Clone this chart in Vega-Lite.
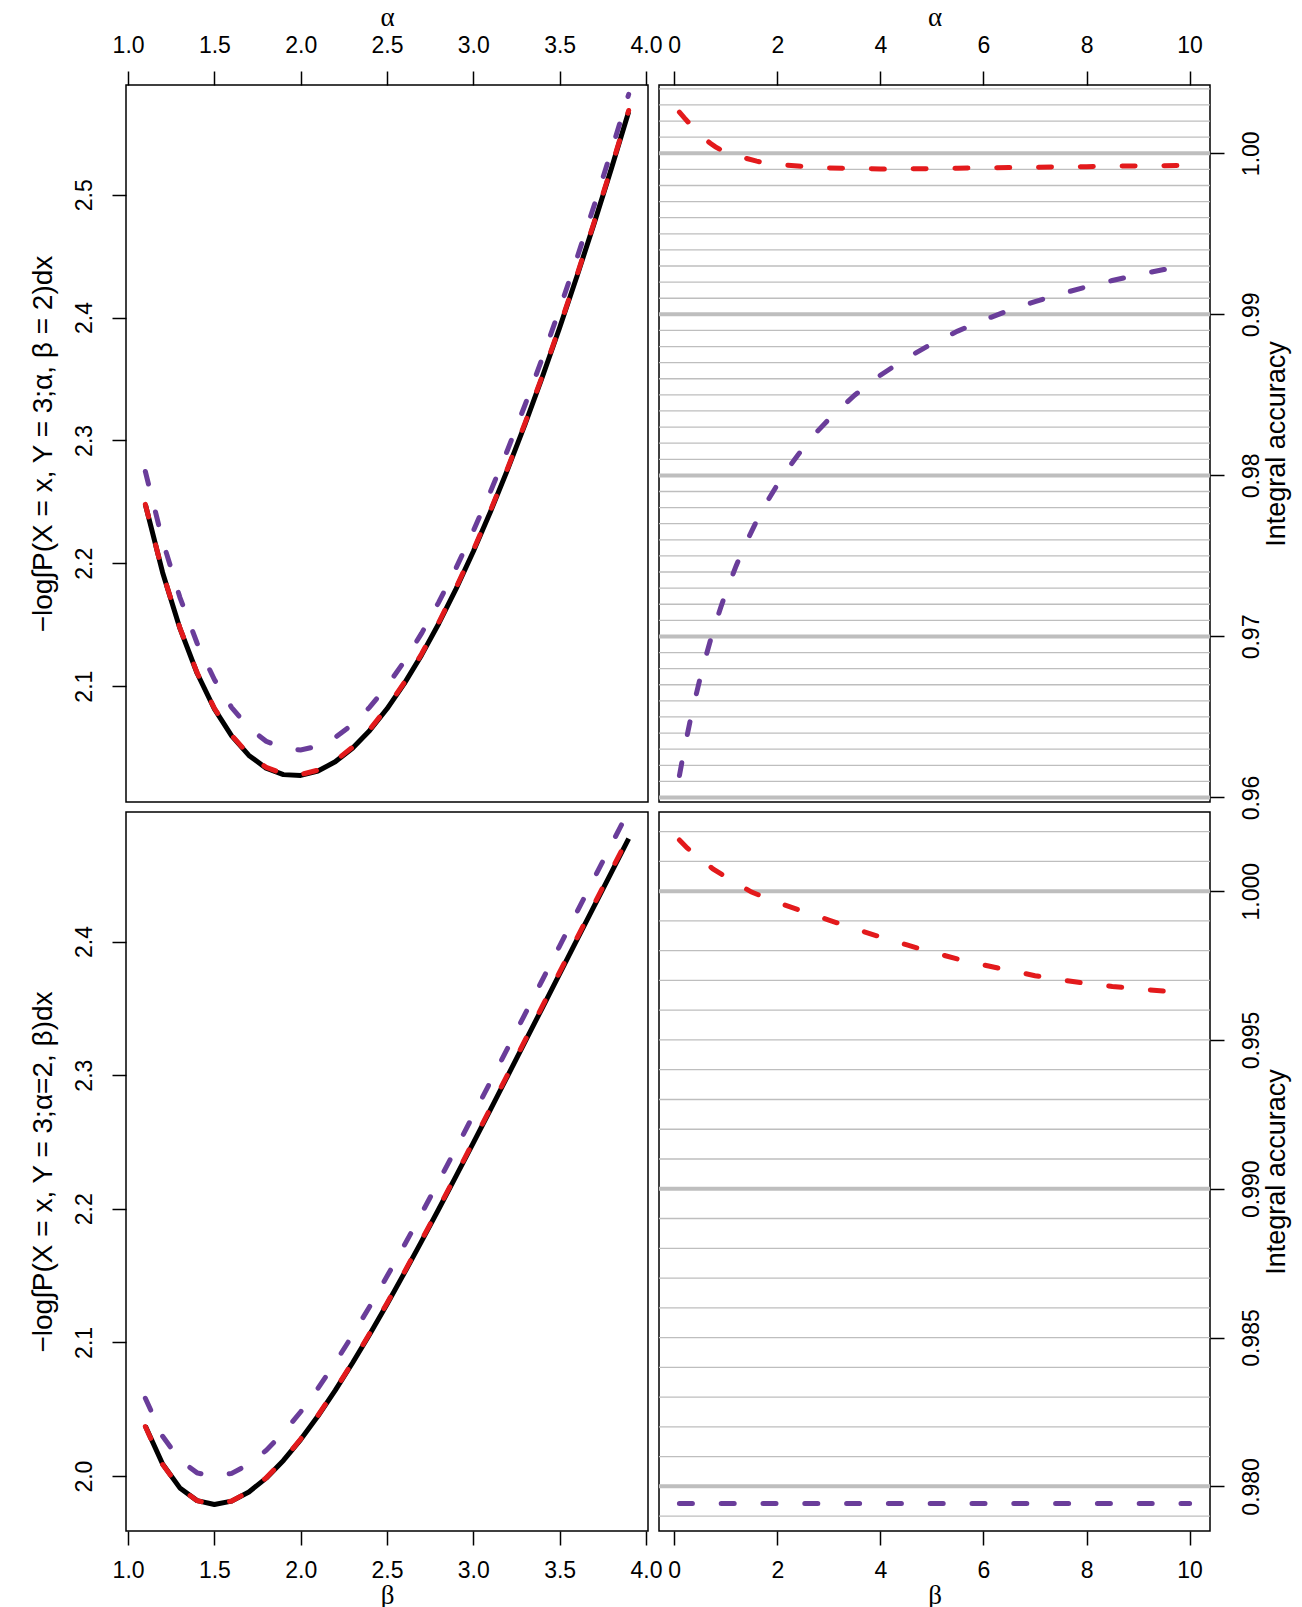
{
  "$schema": "https://vega.github.io/schema/vega-lite/v6.json",
  "padding": {"left": 28, "top": 2, "right": 5, "bottom": 0},
  "background": "white",
  "columns": 2,
  "align": "each",
  "bounds": "flush",
  "spacing": {"row": 10, "column": 11},
  "datasets": {
    "tl": [
      {"alpha": 1.1, "exact": 2.24798, "red": 2.24801, "purple": 2.27477},
      {"alpha": 1.2, "exact": 2.19256, "red": 2.19268, "purple": 2.21852},
      {"alpha": 1.3, "exact": 2.14717, "red": 2.14739, "purple": 2.17235},
      {"alpha": 1.4, "exact": 2.1105, "red": 2.11082, "purple": 2.13494},
      {"alpha": 1.5, "exact": 2.08155, "red": 2.08196, "purple": 2.1053},
      {"alpha": 1.6, "exact": 2.05948, "red": 2.05997, "purple": 2.08257},
      {"alpha": 1.7, "exact": 2.04358, "red": 2.04414, "purple": 2.06605},
      {"alpha": 1.8, "exact": 2.03326, "red": 2.03388, "purple": 2.05514},
      {"alpha": 1.9, "exact": 2.02798, "red": 2.02863, "purple": 2.0493},
      {"alpha": 2.0, "exact": 2.02733, "red": 2.02801, "purple": 2.04812},
      {"alpha": 2.1, "exact": 2.03092, "red": 2.03163, "purple": 2.05121},
      {"alpha": 2.2, "exact": 2.03841, "red": 2.03915, "purple": 2.05821},
      {"alpha": 2.3, "exact": 2.04951, "red": 2.05028, "purple": 2.06886},
      {"alpha": 2.4, "exact": 2.06397, "red": 2.06476, "purple": 2.08288},
      {"alpha": 2.5, "exact": 2.08155, "red": 2.08237, "purple": 2.10004},
      {"alpha": 2.6, "exact": 2.10205, "red": 2.10289, "purple": 2.12014},
      {"alpha": 2.7, "exact": 2.12526, "red": 2.12612, "purple": 2.14296},
      {"alpha": 2.8, "exact": 2.15103, "red": 2.15191, "purple": 2.16837},
      {"alpha": 2.9, "exact": 2.1792, "red": 2.1801, "purple": 2.19618},
      {"alpha": 3.0, "exact": 2.20965, "red": 2.21056, "purple": 2.2263},
      {"alpha": 3.1, "exact": 2.24222, "red": 2.24314, "purple": 2.25854},
      {"alpha": 3.2, "exact": 2.27681, "red": 2.27774, "purple": 2.29282},
      {"alpha": 3.3, "exact": 2.31332, "red": 2.31426, "purple": 2.32902},
      {"alpha": 3.4, "exact": 2.35166, "red": 2.35261, "purple": 2.36707},
      {"alpha": 3.5, "exact": 2.39171, "red": 2.39266, "purple": 2.40685},
      {"alpha": 3.6, "exact": 2.4334, "red": 2.43436, "purple": 2.44827},
      {"alpha": 3.7, "exact": 2.47666, "red": 2.47762, "purple": 2.49127},
      {"alpha": 3.8, "exact": 2.52141, "red": 2.52238, "purple": 2.53576},
      {"alpha": 3.9, "exact": 2.56757, "red": 2.56854, "purple": 2.58168}
    ],
    "bl": [
      {"beta": 1.1, "exact": 2.03746, "red": 2.03708, "purple": 2.05825},
      {"beta": 1.2, "exact": 2.00903, "red": 2.00876, "purple": 2.02982},
      {"beta": 1.3, "exact": 1.99116, "red": 1.99099, "purple": 2.01195},
      {"beta": 1.4, "exact": 1.98163, "red": 1.98156, "purple": 2.00242},
      {"beta": 1.5, "exact": 1.97876, "red": 1.97879, "purple": 1.99955},
      {"beta": 1.6, "exact": 1.98125, "red": 1.98135, "purple": 2.00204},
      {"beta": 1.7, "exact": 1.98808, "red": 1.98825, "purple": 2.00887},
      {"beta": 1.8, "exact": 1.99844, "red": 1.99868, "purple": 2.01923},
      {"beta": 1.9, "exact": 2.0117, "red": 2.01201, "purple": 2.03249},
      {"beta": 2.0, "exact": 2.02732, "red": 2.0277, "purple": 2.04811},
      {"beta": 2.1, "exact": 2.0449, "red": 2.04534, "purple": 2.06569},
      {"beta": 2.2, "exact": 2.06409, "red": 2.06459, "purple": 2.08488},
      {"beta": 2.3, "exact": 2.08459, "red": 2.08515, "purple": 2.10538},
      {"beta": 2.4, "exact": 2.10618, "red": 2.1068, "purple": 2.12697},
      {"beta": 2.5, "exact": 2.12865, "red": 2.12933, "purple": 2.14944},
      {"beta": 2.6, "exact": 2.15184, "red": 2.15258, "purple": 2.17263},
      {"beta": 2.7, "exact": 2.17562, "red": 2.17642, "purple": 2.19641},
      {"beta": 2.8, "exact": 2.19985, "red": 2.2007, "purple": 2.22064},
      {"beta": 2.9, "exact": 2.22446, "red": 2.22537, "purple": 2.24525},
      {"beta": 3.0, "exact": 2.24934, "red": 2.25031, "purple": 2.27013},
      {"beta": 3.1, "exact": 2.27443, "red": 2.27546, "purple": 2.29522},
      {"beta": 3.2, "exact": 2.29968, "red": 2.30077, "purple": 2.32047},
      {"beta": 3.3, "exact": 2.32502, "red": 2.32616, "purple": 2.34581},
      {"beta": 3.4, "exact": 2.3504, "red": 2.3516, "purple": 2.37119},
      {"beta": 3.5, "exact": 2.3758, "red": 2.37706, "purple": 2.39659},
      {"beta": 3.6, "exact": 2.40118, "red": 2.4025, "purple": 2.42197},
      {"beta": 3.7, "exact": 2.42652, "red": 2.42789, "purple": 2.44731},
      {"beta": 3.8, "exact": 2.45178, "red": 2.45321, "purple": 2.47257},
      {"beta": 3.9, "exact": 2.47695, "red": 2.47844, "purple": 2.49774}
    ],
    "tr": [
      {"alpha": 0.1, "red": 1.00255, "purple": 0.96136},
      {"alpha": 0.2, "red": 1.00218, "purple": 0.96307},
      {"alpha": 0.3, "red": 1.00183, "purple": 0.96463},
      {"alpha": 0.4, "red": 1.0015, "purple": 0.96606},
      {"alpha": 0.5, "red": 1.00118, "purple": 0.96738},
      {"alpha": 0.6, "red": 1.00088, "purple": 0.9686},
      {"alpha": 0.7, "red": 1.00062, "purple": 0.96974},
      {"alpha": 0.8, "red": 1.0004, "purple": 0.9708},
      {"alpha": 0.9, "red": 1.00022, "purple": 0.97178},
      {"alpha": 1.0, "red": 1.00007, "purple": 0.9727},
      {"alpha": 1.2, "red": 0.99988, "purple": 0.97438},
      {"alpha": 1.4, "red": 0.99968, "purple": 0.97586},
      {"alpha": 1.6, "red": 0.99951, "purple": 0.97718},
      {"alpha": 1.8, "red": 0.99938, "purple": 0.97836},
      {"alpha": 2.0, "red": 0.99932, "purple": 0.97942},
      {"alpha": 2.2, "red": 0.99926, "purple": 0.98039},
      {"alpha": 2.4, "red": 0.99921, "purple": 0.98127},
      {"alpha": 2.6, "red": 0.99916, "purple": 0.98208},
      {"alpha": 2.8, "red": 0.99912, "purple": 0.98281},
      {"alpha": 3.0, "red": 0.99909, "purple": 0.98349},
      {"alpha": 3.5, "red": 0.99905, "purple": 0.98498},
      {"alpha": 4.0, "red": 0.99903, "purple": 0.98622},
      {"alpha": 4.5, "red": 0.99903, "purple": 0.98727},
      {"alpha": 5.0, "red": 0.99905, "purple": 0.98817},
      {"alpha": 5.5, "red": 0.99907, "purple": 0.98896},
      {"alpha": 6.0, "red": 0.9991, "purple": 0.98964},
      {"alpha": 6.5, "red": 0.99911, "purple": 0.99025},
      {"alpha": 7.0, "red": 0.99913, "purple": 0.99079},
      {"alpha": 7.5, "red": 0.99915, "purple": 0.99127},
      {"alpha": 8.0, "red": 0.99917, "purple": 0.99171},
      {"alpha": 8.5, "red": 0.9992, "purple": 0.9921},
      {"alpha": 9.0, "red": 0.99922, "purple": 0.99246},
      {"alpha": 9.5, "red": 0.99923, "purple": 0.99278},
      {"alpha": 10.0, "red": 0.99925, "purple": 0.99308}
    ],
    "br": [
      {"beta": 0.1, "red": 1.00172, "purple": 0.97942},
      {"beta": 0.25, "red": 1.00145, "purple": 0.97942},
      {"beta": 0.5, "red": 1.0011, "purple": 0.97942},
      {"beta": 0.75, "red": 1.00075, "purple": 0.97942},
      {"beta": 1.0, "red": 1.00048, "purple": 0.97942},
      {"beta": 1.25, "red": 1.00022, "purple": 0.97942},
      {"beta": 1.5, "red": 0.99997, "purple": 0.97942},
      {"beta": 2.0, "red": 0.99962, "purple": 0.97942},
      {"beta": 2.5, "red": 0.99932, "purple": 0.97942},
      {"beta": 3.0, "red": 0.99903, "purple": 0.97942},
      {"beta": 3.5, "red": 0.99874, "purple": 0.97942},
      {"beta": 4.0, "red": 0.99846, "purple": 0.97942},
      {"beta": 4.5, "red": 0.9982, "purple": 0.97942},
      {"beta": 5.0, "red": 0.99795, "purple": 0.97942},
      {"beta": 5.5, "red": 0.99772, "purple": 0.97942},
      {"beta": 6.0, "red": 0.99752, "purple": 0.97942},
      {"beta": 6.5, "red": 0.99734, "purple": 0.97942},
      {"beta": 7.0, "red": 0.99716, "purple": 0.97942},
      {"beta": 7.5, "red": 0.99702, "purple": 0.97942},
      {"beta": 8.0, "red": 0.9969, "purple": 0.97942},
      {"beta": 8.5, "red": 0.9968, "purple": 0.97942},
      {"beta": 9.0, "red": 0.99672, "purple": 0.97942},
      {"beta": 9.5, "red": 0.99664, "purple": 0.97942},
      {"beta": 10.0, "red": 0.99656, "purple": 0.97942}
    ],
    "gridTop": [
      {"v": 0.960, "major": true}, {"v": 0.961, "major": false}, {"v": 0.962, "major": false}, {"v": 0.963, "major": false}, {"v": 0.964, "major": false},
      {"v": 0.965, "major": false}, {"v": 0.966, "major": false}, {"v": 0.967, "major": false}, {"v": 0.968, "major": false}, {"v": 0.969, "major": false},
      {"v": 0.970, "major": true}, {"v": 0.971, "major": false}, {"v": 0.972, "major": false}, {"v": 0.973, "major": false}, {"v": 0.974, "major": false},
      {"v": 0.975, "major": false}, {"v": 0.976, "major": false}, {"v": 0.977, "major": false}, {"v": 0.978, "major": false}, {"v": 0.979, "major": false},
      {"v": 0.980, "major": true}, {"v": 0.981, "major": false}, {"v": 0.982, "major": false}, {"v": 0.983, "major": false}, {"v": 0.984, "major": false},
      {"v": 0.985, "major": false}, {"v": 0.986, "major": false}, {"v": 0.987, "major": false}, {"v": 0.988, "major": false}, {"v": 0.989, "major": false},
      {"v": 0.990, "major": true}, {"v": 0.991, "major": false}, {"v": 0.992, "major": false}, {"v": 0.993, "major": false}, {"v": 0.994, "major": false},
      {"v": 0.995, "major": false}, {"v": 0.996, "major": false}, {"v": 0.997, "major": false}, {"v": 0.998, "major": false}, {"v": 0.999, "major": false},
      {"v": 1.000, "major": true}, {"v": 1.001, "major": false}, {"v": 1.002, "major": false}, {"v": 1.003, "major": false}, {"v": 1.004, "major": false}
    ],
    "gridBot": [
      {"v": 0.979, "major": false},
      {"v": 0.980, "major": true}, {"v": 0.981, "major": false}, {"v": 0.982, "major": false}, {"v": 0.983, "major": false}, {"v": 0.984, "major": false},
      {"v": 0.985, "major": false}, {"v": 0.986, "major": false}, {"v": 0.987, "major": false}, {"v": 0.988, "major": false}, {"v": 0.989, "major": false},
      {"v": 0.990, "major": true}, {"v": 0.991, "major": false}, {"v": 0.992, "major": false}, {"v": 0.993, "major": false}, {"v": 0.994, "major": false},
      {"v": 0.995, "major": false}, {"v": 0.996, "major": false}, {"v": 0.997, "major": false}, {"v": 0.998, "major": false}, {"v": 0.999, "major": false},
      {"v": 1.000, "major": true}, {"v": 1.001, "major": false}, {"v": 1.002, "major": false}
    ]
  },
  "concat": [
    {
      "width": 522, "height": 717,
      "data": {"name": "tl"},
      "layer": [
        {
          "mark": {"type": "line", "color": "black", "strokeWidth": 5, "strokeJoin": "round", "clip": true},
          "encoding": {
            "x": {"field": "alpha", "type": "quantitative", "scale": {"domain": [0.988, 4.012], "nice": false, "zero": false},
                  "axis": {"orient": "top", "title": "α", "titleFont": "Liberation Serif", "values": [1, 1.5, 2, 2.5, 3, 3.5, 4], "format": ".1f", "labelAngle": 0, "labelPadding": 14, "titlePadding": 3}},
            "y": {"field": "exact", "type": "quantitative", "scale": {"domain": [2.0057, 2.5893], "nice": false, "zero": false},
                  "axis": {"orient": "left", "title": "−log∫P(X = x, Y = 3;α, β = 2)dx", "titleFontSize": 28, "values": [2.1, 2.2, 2.3, 2.4, 2.5], "format": ".1f", "labelAngle": 270, "labelAlign": "center", "labelBaseline": "bottom", "labelPadding": 16, "titlePadding": 16}}
          }
        },
        {
          "mark": {"type": "line", "color": "#E31A1C", "strokeWidth": 5, "strokeDash": [13, 28.8], "strokeCap": "round", "clip": true},
          "encoding": {
            "x": {"field": "alpha", "type": "quantitative", "scale": {"domain": [0.988, 4.012], "nice": false, "zero": false},
                  "axis": {"orient": "top", "title": "α", "titleFont": "Liberation Serif", "values": [1, 1.5, 2, 2.5, 3, 3.5, 4], "format": ".1f", "labelAngle": 0, "labelPadding": 14, "titlePadding": 3}},
            "y": {"field": "red", "type": "quantitative", "scale": {"domain": [2.0057, 2.5893], "nice": false, "zero": false},
                  "axis": {"orient": "left", "title": "−log∫P(X = x, Y = 3;α, β = 2)dx", "titleFontSize": 28, "values": [2.1, 2.2, 2.3, 2.4, 2.5], "format": ".1f", "labelAngle": 270, "labelAlign": "center", "labelBaseline": "bottom", "labelPadding": 16, "titlePadding": 16}}
          }
        },
        {
          "mark": {"type": "line", "color": "#6A3D9A", "strokeWidth": 5, "strokeDash": [13, 28.8], "strokeCap": "round", "clip": true},
          "encoding": {
            "x": {"field": "alpha", "type": "quantitative", "scale": {"domain": [0.988, 4.012], "nice": false, "zero": false},
                  "axis": {"orient": "top", "title": "α", "titleFont": "Liberation Serif", "values": [1, 1.5, 2, 2.5, 3, 3.5, 4], "format": ".1f", "labelAngle": 0, "labelPadding": 14, "titlePadding": 3}},
            "y": {"field": "purple", "type": "quantitative", "scale": {"domain": [2.0057, 2.5893], "nice": false, "zero": false},
                  "axis": {"orient": "left", "title": "−log∫P(X = x, Y = 3;α, β = 2)dx", "titleFontSize": 28, "values": [2.1, 2.2, 2.3, 2.4, 2.5], "format": ".1f", "labelAngle": 270, "labelAlign": "center", "labelBaseline": "bottom", "labelPadding": 16, "titlePadding": 16}}
          }
        }
      ]
    },
    {
      "width": 551, "height": 717,
      "layer": [
        {
          "data": {"name": "gridTop"},
          "transform": [{"filter": "!datum.major"}],
          "mark": {"type": "rule", "color": "#BEBEBE", "strokeWidth": 1.3},
          "encoding": {
            "y": {"field": "v", "type": "quantitative", "scale": {"domain": [0.95972, 1.00424], "nice": false, "zero": false},
                  "axis": {"orient": "right", "title": "Integral accuracy", "titleAngle": 270, "titleBaseline": "top", "titlePadding": 0, "values": [0.96, 0.97, 0.98, 0.99, 1.0], "format": ".2f", "labelAngle": 270, "labelAlign": "center", "labelBaseline": "top", "labelPadding": 16}}
          }
        },
        {
          "data": {"name": "gridTop"},
          "transform": [{"filter": "datum.major"}],
          "mark": {"type": "rule", "color": "#BEBEBE", "strokeWidth": 4},
          "encoding": {
            "y": {"field": "v", "type": "quantitative", "scale": {"domain": [0.95972, 1.00424], "nice": false, "zero": false},
                  "axis": {"orient": "right", "title": "Integral accuracy", "titleAngle": 270, "titleBaseline": "top", "titlePadding": 0, "values": [0.96, 0.97, 0.98, 0.99, 1.0], "format": ".2f", "labelAngle": 270, "labelAlign": "center", "labelBaseline": "top", "labelPadding": 16}}
          }
        },
        {
          "data": {"name": "tr"},
          "mark": {"type": "line", "color": "#E31A1C", "strokeWidth": 5, "strokeDash": [13, 28.8], "strokeCap": "round", "clip": true},
          "encoding": {
            "x": {"field": "alpha", "type": "quantitative", "scale": {"domain": [-0.296, 10.396], "nice": false, "zero": false},
                  "axis": {"orient": "top", "title": "α", "titleFont": "Liberation Serif", "values": [0, 2, 4, 6, 8, 10], "format": "d", "labelAngle": 0, "labelPadding": 14, "titlePadding": 3}},
            "y": {"field": "red", "type": "quantitative", "scale": {"domain": [0.95972, 1.00424], "nice": false, "zero": false},
                  "axis": {"orient": "right", "title": "Integral accuracy", "titleAngle": 270, "titleBaseline": "top", "titlePadding": 0, "values": [0.96, 0.97, 0.98, 0.99, 1.0], "format": ".2f", "labelAngle": 270, "labelAlign": "center", "labelBaseline": "top", "labelPadding": 16}}
          }
        },
        {
          "data": {"name": "tr"},
          "mark": {"type": "line", "color": "#6A3D9A", "strokeWidth": 5, "strokeDash": [13, 28.8], "strokeCap": "round", "clip": true},
          "encoding": {
            "x": {"field": "alpha", "type": "quantitative", "scale": {"domain": [-0.296, 10.396], "nice": false, "zero": false},
                  "axis": {"orient": "top", "title": "α", "titleFont": "Liberation Serif", "values": [0, 2, 4, 6, 8, 10], "format": "d", "labelAngle": 0, "labelPadding": 14, "titlePadding": 3}},
            "y": {"field": "purple", "type": "quantitative", "scale": {"domain": [0.95972, 1.00424], "nice": false, "zero": false},
                  "axis": {"orient": "right", "title": "Integral accuracy", "titleAngle": 270, "titleBaseline": "top", "titlePadding": 0, "values": [0.96, 0.97, 0.98, 0.99, 1.0], "format": ".2f", "labelAngle": 270, "labelAlign": "center", "labelBaseline": "top", "labelPadding": 16}}
          }
        }
      ]
    },
    {
      "width": 522, "height": 719,
      "data": {"name": "bl"},
      "layer": [
        {
          "mark": {"type": "line", "color": "black", "strokeWidth": 5, "strokeJoin": "round", "clip": true},
          "encoding": {
            "x": {"field": "beta", "type": "quantitative", "scale": {"domain": [0.988, 4.012], "nice": false, "zero": false},
                  "axis": {"orient": "bottom", "title": "β", "titleFont": "Liberation Serif", "values": [1, 1.5, 2, 2.5, 3, 3.5, 4], "format": ".1f", "labelAngle": 0, "labelPadding": 14, "titlePadding": 0}},
            "y": {"field": "exact", "type": "quantitative", "scale": {"domain": [1.9589, 2.4969], "nice": false, "zero": false},
                  "axis": {"orient": "left", "title": "−log∫P(X = x, Y = 3;α=2, β)dx", "titleFontSize": 28, "values": [2.0, 2.1, 2.2, 2.3, 2.4], "format": ".1f", "labelAngle": 270, "labelAlign": "center", "labelBaseline": "bottom", "labelPadding": 16, "titlePadding": 16}}
          }
        },
        {
          "mark": {"type": "line", "color": "#E31A1C", "strokeWidth": 5, "strokeDash": [13, 28.8], "strokeCap": "round", "clip": true},
          "encoding": {
            "x": {"field": "beta", "type": "quantitative", "scale": {"domain": [0.988, 4.012], "nice": false, "zero": false},
                  "axis": {"orient": "bottom", "title": "β", "titleFont": "Liberation Serif", "values": [1, 1.5, 2, 2.5, 3, 3.5, 4], "format": ".1f", "labelAngle": 0, "labelPadding": 14, "titlePadding": 0}},
            "y": {"field": "red", "type": "quantitative", "scale": {"domain": [1.9589, 2.4969], "nice": false, "zero": false},
                  "axis": {"orient": "left", "title": "−log∫P(X = x, Y = 3;α=2, β)dx", "titleFontSize": 28, "values": [2.0, 2.1, 2.2, 2.3, 2.4], "format": ".1f", "labelAngle": 270, "labelAlign": "center", "labelBaseline": "bottom", "labelPadding": 16, "titlePadding": 16}}
          }
        },
        {
          "mark": {"type": "line", "color": "#6A3D9A", "strokeWidth": 5, "strokeDash": [13, 28.8], "strokeCap": "round", "clip": true},
          "encoding": {
            "x": {"field": "beta", "type": "quantitative", "scale": {"domain": [0.988, 4.012], "nice": false, "zero": false},
                  "axis": {"orient": "bottom", "title": "β", "titleFont": "Liberation Serif", "values": [1, 1.5, 2, 2.5, 3, 3.5, 4], "format": ".1f", "labelAngle": 0, "labelPadding": 14, "titlePadding": 0}},
            "y": {"field": "purple", "type": "quantitative", "scale": {"domain": [1.9589, 2.4969], "nice": false, "zero": false},
                  "axis": {"orient": "left", "title": "−log∫P(X = x, Y = 3;α=2, β)dx", "titleFontSize": 28, "values": [2.0, 2.1, 2.2, 2.3, 2.4], "format": ".1f", "labelAngle": 270, "labelAlign": "center", "labelBaseline": "bottom", "labelPadding": 16, "titlePadding": 16}}
          }
        }
      ]
    },
    {
      "width": 551, "height": 719,
      "layer": [
        {
          "data": {"name": "gridBot"},
          "transform": [{"filter": "!datum.major"}],
          "mark": {"type": "rule", "color": "#BEBEBE", "strokeWidth": 1.3},
          "encoding": {
            "y": {"field": "v", "type": "quantitative", "scale": {"domain": [0.9785, 1.00266], "nice": false, "zero": false},
                  "axis": {"orient": "right", "title": "Integral accuracy", "titleAngle": 270, "titleBaseline": "top", "titlePadding": 0, "values": [0.98, 0.985, 0.99, 0.995, 1.0], "format": ".3f", "labelAngle": 270, "labelAlign": "center", "labelBaseline": "top", "labelPadding": 16}}
          }
        },
        {
          "data": {"name": "gridBot"},
          "transform": [{"filter": "datum.major"}],
          "mark": {"type": "rule", "color": "#BEBEBE", "strokeWidth": 4},
          "encoding": {
            "y": {"field": "v", "type": "quantitative", "scale": {"domain": [0.9785, 1.00266], "nice": false, "zero": false},
                  "axis": {"orient": "right", "title": "Integral accuracy", "titleAngle": 270, "titleBaseline": "top", "titlePadding": 0, "values": [0.98, 0.985, 0.99, 0.995, 1.0], "format": ".3f", "labelAngle": 270, "labelAlign": "center", "labelBaseline": "top", "labelPadding": 16}}
          }
        },
        {
          "data": {"name": "br"},
          "mark": {"type": "line", "color": "#E31A1C", "strokeWidth": 5, "strokeDash": [13, 28.8], "strokeCap": "round", "clip": true},
          "encoding": {
            "x": {"field": "beta", "type": "quantitative", "scale": {"domain": [-0.296, 10.396], "nice": false, "zero": false},
                  "axis": {"orient": "bottom", "title": "β", "titleFont": "Liberation Serif", "values": [0, 2, 4, 6, 8, 10], "format": "d", "labelAngle": 0, "labelPadding": 14, "titlePadding": 0}},
            "y": {"field": "red", "type": "quantitative", "scale": {"domain": [0.9785, 1.00266], "nice": false, "zero": false},
                  "axis": {"orient": "right", "title": "Integral accuracy", "titleAngle": 270, "titleBaseline": "top", "titlePadding": 0, "values": [0.98, 0.985, 0.99, 0.995, 1.0], "format": ".3f", "labelAngle": 270, "labelAlign": "center", "labelBaseline": "top", "labelPadding": 16}}
          }
        },
        {
          "data": {"name": "br"},
          "mark": {"type": "line", "color": "#6A3D9A", "strokeWidth": 5, "strokeDash": [13, 28.8], "strokeCap": "round", "clip": true},
          "encoding": {
            "x": {"field": "beta", "type": "quantitative", "scale": {"domain": [-0.296, 10.396], "nice": false, "zero": false},
                  "axis": {"orient": "bottom", "title": "β", "titleFont": "Liberation Serif", "values": [0, 2, 4, 6, 8, 10], "format": "d", "labelAngle": 0, "labelPadding": 14, "titlePadding": 0}},
            "y": {"field": "purple", "type": "quantitative", "scale": {"domain": [0.9785, 1.00266], "nice": false, "zero": false},
                  "axis": {"orient": "right", "title": "Integral accuracy", "titleAngle": 270, "titleBaseline": "top", "titlePadding": 0, "values": [0.98, 0.985, 0.99, 0.995, 1.0], "format": ".3f", "labelAngle": 270, "labelAlign": "center", "labelBaseline": "top", "labelPadding": 16}}
          }
        }
      ]
    }
  ],
  "config": {
    "view": {"stroke": "black", "strokeWidth": 1.5},
    "axis": {
      "grid": false, "domain": false,
      "tickColor": "black", "tickWidth": 1.5, "tickSize": 14,
      "labelColor": "black", "labelFont": "Liberation Sans", "labelFontSize": 23,
      "labelFlush": false, "labelOverlap": false, "labelBound": false,
      "titleFont": "Liberation Sans", "titleFontSize": 27, "titleFontWeight": "normal", "titleColor": "black"
    }
  }
}
